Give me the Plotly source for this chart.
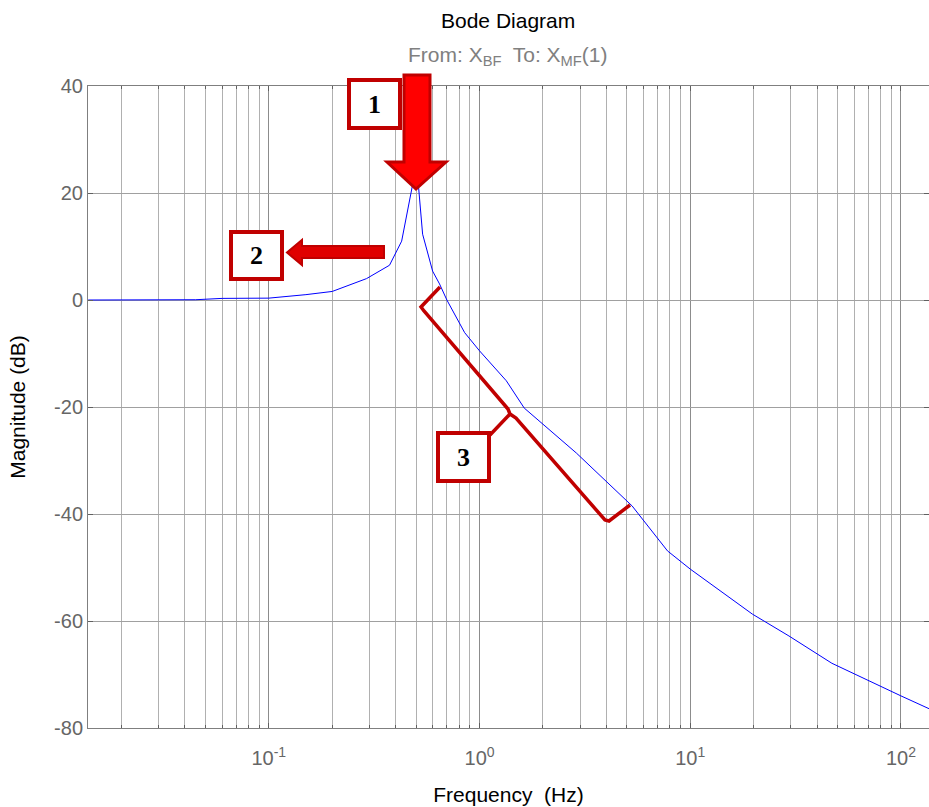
import plotly.graph_objects as go

# ---- data ----
freq_hz = [0.0139, 0.02, 0.03, 0.045, 0.06, 0.1, 0.15, 0.2, 0.291, 0.374, 0.427, 0.456,
           0.481, 0.514, 0.537, 0.599, 0.646, 0.70, 0.85, 1.0, 1.34, 1.63, 2.88, 5.3,
           7.8, 10.0, 19.7, 29.4, 47.0, 100.0, 136.0]
mag_db = [0.0, 0.0, 0.0, 0.05, 0.3, 0.35, 1.0, 1.6, 4.0, 6.5, 11.0, 16.6,
          21.5, 21.0, 12.3, 5.4, 3.0, 0.0, -6.1, -9.5, -15.1, -20.2, -28.6, -38.5,
          -46.9, -50.3, -58.7, -62.8, -67.9, -74.0, -76.4]

y_ticks = [-80, -60, -40, -20, 0, 20, 40]
y_ticklabels = ["-80", "-60", "-40", "-20", "0", "20", "40"]
x_ticks = [0.1, 1, 10, 100]
x_ticklabels = ["10<sup>-1</sup>", "10<sup>0</sup>", "10<sup>1</sup>", "10<sup>2</sup>"]
x_minor = [k * 10.0 ** n for n in range(-2, 3) for k in range(2, 10)]

# body margin is removed by the post script: the figure starts at (0, 0)
OX, OY = 0, 0
W, H = 929 - OX, 807 - OY
L, R, T, B = 88 - OX, 0, 86 - OY, 807 - 728
PW, PH = W - L - R, H - T - B


def px(x):
    return (x - OX - L) / PW


def py(y):
    return (H - B - (y - OY)) / PH


def path(pts, close=True):
    s = ""
    for i, p in enumerate(pts):
        if p is None:
            continue
        cmd = "M" if (i == 0 or pts[i - 1] is None) else "L"
        s += f"{cmd}{px(p[0]):.5f},{py(p[1]):.5f} "
    if close:
        s += "Z"
    return s


fig = go.Figure()
fig.add_trace(go.Scatter(x=freq_hz, y=mag_db, mode="lines",
                         line=dict(color="#0000ff", width=1), showlegend=False,
                         hoverinfo="skip"))

DARK = "#c00000"
shapes = []
# arrow 1 (down)
shapes.append(dict(type="path", xref="paper", yref="paper",
                   path=path([(404, 75), (430, 75), (430, 162), (446, 162), (416, 189),
                              (387, 162), (404, 162)]),
                   fillcolor="#ff0000", line=dict(color=DARK, width=3)))
# arrow 2 (left)
shapes.append(dict(type="path", xref="paper", yref="paper",
                   path=path([(384, 246), (302, 246), (302, 240), (287, 252.5),
                              (302, 265), (302, 258), (384, 258)]),
                   fillcolor="#e00000", line=dict(color=DARK, width=2)))
# brace 3
shapes.append(dict(type="path", xref="paper", yref="paper",
                   path=path([(440, 287), (421, 307), (424, 311), (508, 409), (510, 414),
                              (490, 435), None, (510, 414), (516, 418), (605, 520),
                              (609, 521), (630, 505)], close=False),
                   line=dict(color=DARK, width=3.5)))
# boxes
boxes = [((349, 80, 400, 128), "1"), ((231, 232, 282, 279), "2"), ((438, 433, 489, 481), "3")]
annotations = []
for (x0, y0, x1, y1), lab in boxes:
    shapes.append(dict(type="rect", xref="paper", yref="paper",
                       x0=px(x0), x1=px(x1), y0=py(y1), y1=py(y0),
                       fillcolor="white", line=dict(color=DARK, width=4)))
    annotations.append(dict(xref="paper", yref="paper", x=px((x0 + x1) / 2),
                            y=py((y0 + y1) / 2), text=f"<b>{lab}</b>", showarrow=False,
                            font=dict(family="Liberation Serif", size=26, color="black"),
                            xanchor="center", yanchor="middle"))

# titles
annotations.append(dict(xref="paper", yref="paper", x=px(508), y=py(20), text="Bode Diagram",
                        showarrow=False, xanchor="center", yanchor="middle",
                        font=dict(family="Liberation Sans", size=21, color="black")))
annotations.append(dict(xref="paper", yref="paper", x=px(508), y=py(56),
                        text="From: X<sub>BF</sub>  To: X<sub>MF</sub>(1)",
                        showarrow=False, xanchor="center", yanchor="middle",
                        font=dict(family="Liberation Sans", size=21, color="#808080")))

GRID = "#b0b0b0"
fig.update_layout(
    width=W, height=H, margin=dict(l=L, r=R, t=T, b=B),
    paper_bgcolor="white", plot_bgcolor="white",
    font=dict(family="Liberation Sans", size=20, color="#666666"),
    shapes=shapes, annotations=annotations,
    xaxis=dict(type="log", range=[-1.858, 2.133], tickmode="array", tickvals=x_ticks,
               ticktext=x_ticklabels, showgrid=True, gridcolor="#8c8c8c", gridwidth=1,
               showline=True, linecolor="#7f7f7f", linewidth=1, mirror="ticks",
               ticks="inside", ticklen=5, tickcolor="#606060", ticklabelstandoff=12,
               tickfont=dict(size=20, color="#666666"),
               minor=dict(tickmode="array", tickvals=x_minor, ticks="inside", ticklen=3,
                          tickcolor="#606060", showgrid=True, gridcolor=GRID, gridwidth=1),
               title=dict(text="Frequency  (Hz)", font=dict(size=21, color="black"), standoff=19),
               zeroline=False),
    yaxis=dict(range=[-80, 40], tickmode="array", tickvals=y_ticks, ticktext=y_ticklabels,
               showgrid=True, gridcolor="#a0a0a0", gridwidth=1, showline=True,
               linecolor="#7f7f7f", linewidth=1, mirror="ticks", ticks="inside", ticklen=5,
               tickcolor="#606060", tickfont=dict(size=20, color="#666666"),
               title=dict(text="Magnitude (dB)", font=dict(size=21, color="black"), standoff=22),
               zeroline=False),
)

fig.write_html("out.html", config={"displayModeBar": False},
               post_script="document.body.style.margin='0';document.body.style.overflow='hidden';")
